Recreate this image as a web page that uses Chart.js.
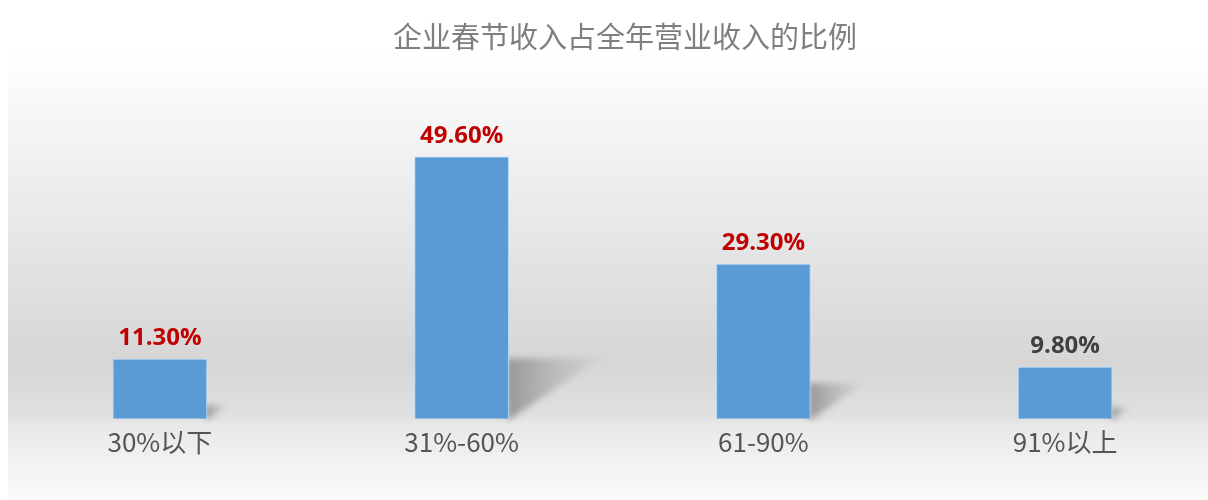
<!DOCTYPE html>
<html>
<head>
<meta charset="utf-8">
<script src="https://cdn.jsdelivr.net/npm/chart.js@4/dist/chart.umd.min.js"></script>
<style>
  html, body { margin: 0; padding: 0; background: #fff; overflow: hidden; }
  #wrap { width: 1216px; height: 500px; }
</style>
</head>
<body>
<div id="wrap"><canvas id="shareChart" width="1216" height="500"></canvas></div>
<script>
const TITLE = "企业春节收入占全年营业收入的比例";
const categories = ["30%以下", "31%-60%", "61-90%", "91%以上"];
const shares = [11.3, 49.6, 29.3, 9.8];
const labelColors = ["#c00000", "#c00000", "#c00000", "#404040"];

// gray band behind the plot, like the slide background
const backdrop = {
  id: "backdrop",
  beforeDraw(chart) {
    const ctx = chart.ctx;
    const g = ctx.createLinearGradient(0, 50, 0, 500);
    g.addColorStop(0, "#ffffff");
    g.addColorStop(0.69, "#d6d6d6");
    g.addColorStop(0.82, "#e1e1e1");
    g.addColorStop(0.83, "#e8e8e8");
    g.addColorStop(1, "#fbfbfb");
    ctx.save();
    ctx.fillStyle = g;
    ctx.fillRect(8, 50, chart.width - 8, 450);
    ctx.restore();
  },
};

// slanted drop shadow to the right of every bar
const barShadow = {
  id: "barShadow",
  beforeDatasetsDraw(chart) {
    const ctx = chart.ctx;
    const base = chart.scales.y.getPixelForValue(0);
    chart.getDatasetMeta(0).data.forEach((bar) => {
      const h = base - bar.y;
      const right = bar.x + bar.width / 2;
      const top = base - h * 0.23;
      const g = ctx.createLinearGradient(right, 0, right + h * 0.35, 0);
      g.addColorStop(0, "rgba(140,140,140,0.85)");
      g.addColorStop(1, "rgba(170,170,170,0.1)");
      ctx.save();
      ctx.filter = "blur(3px)";
      ctx.fillStyle = g;
      ctx.beginPath();
      ctx.moveTo(right - 2, top);
      ctx.lineTo(right + h * 0.35, top);
      ctx.lineTo(right + 2, base);
      ctx.lineTo(right - 2, base);
      ctx.closePath();
      ctx.fill();
      ctx.restore();
    });
  },
};

const valueLabels = {
  id: "valueLabels",
  afterDatasetsDraw(chart) {
    const ctx = chart.ctx;
    ctx.save();
    ctx.font = "bold 24px 'Open Sans', 'Noto Sans', sans-serif";
    ctx.textAlign = "center";
    ctx.textBaseline = "bottom";
    chart.getDatasetMeta(0).data.forEach((bar, i) => {
      ctx.fillStyle = labelColors[i];
      ctx.fillText(shares[i].toFixed(2) + "%", bar.x, bar.y - 9);
    });
    // title
    ctx.font = "29px 'Noto Sans CJK SC', sans-serif";
    ctx.fillStyle = "#7f7f7f";
    ctx.textBaseline = "middle";
    ctx.fillText(TITLE, 625, 37);
    ctx.restore();
  },
};

new Chart(document.getElementById("shareChart"), {
  type: "bar",
  data: {
    labels: categories,
    datasets: [
      {
        data: shares,
        backgroundColor: "#5b9bd5",
        borderColor: "rgba(175,215,245,0.9)",
        borderWidth: 1,
        barThickness: 94,
      },
    ],
  },
  options: {
    responsive: false,
    animation: false,
    layout: { padding: { left: 9, right: 0, top: 102, bottom: 42 } },
    plugins: {
      legend: { display: false },
      tooltip: { enabled: false },
    },
    scales: {
      x: {
        grid: { display: false },
        border: { display: false },
        ticks: {
          padding: 0,
          color: "#555555",
          font: { family: "'Noto Sans CJK SC', sans-serif", size: 26 },
        },
      },
      y: { display: false, min: 0, max: 60 },
    },
  },
  plugins: [backdrop, barShadow, valueLabels],
});
</script>
</body>
</html>
